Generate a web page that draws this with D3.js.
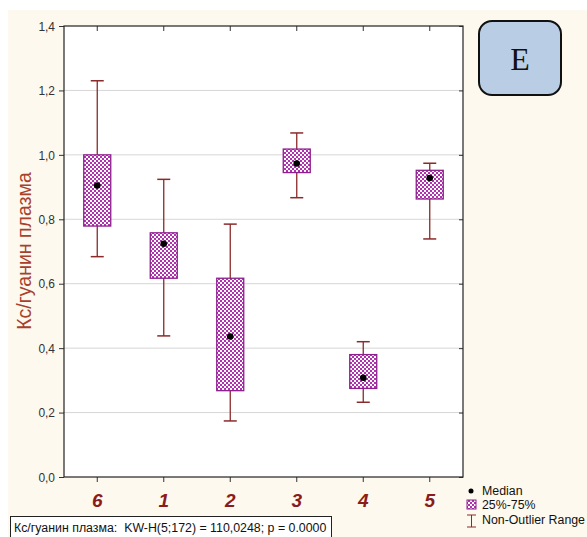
<!DOCTYPE html>
<html><head><meta charset="utf-8">
<script src="https://cdn.jsdelivr.net/npm/d3@7"></script>
<style>body{margin:0;background:#fff}svg{display:block}</style>
</head><body>
<script>
const categories = ["6","1","2","3","4","5"];
const whiskerLow  = [0.684, 0.438, 0.174, 0.867, 0.232, 0.739];
const q1          = [0.779, 0.617, 0.268, 0.945, 0.275, 0.863];
const median      = [0.905, 0.724, 0.436, 0.973, 0.308, 0.928];
const q3          = [1.000, 0.758, 0.617, 1.018, 0.380, 0.952];
const whiskerHigh = [1.230, 0.924, 0.785, 1.068, 0.420, 0.974];
const yTicks = [0, 0.2, 0.4, 0.6, 0.8, 1.0, 1.2, 1.4];
const legendLabels = ["Median", "25%-75%", "Non-Outlier Range"];
const yTitle = "Кс/гуанин плазма";
const footText = "Кс/гуанин плазма:  KW-H(5;172) = 110,0248; p = 0.0000";
const panelLetter = "E";

const W = 587, H = 537;
const svg = d3.select("body").append("svg").attr("width", W).attr("height", H);
const defs = svg.append("defs");
const pat = defs.append("pattern").attr("id","chk").attr("patternUnits","userSpaceOnUse")
  .attr("width",4).attr("height",4);
pat.append("rect").attr("width",4).attr("height",4).attr("fill","#ffffff");
pat.append("rect").attr("width",2).attr("height",2).attr("fill","#b030b0");
pat.append("rect").attr("x",2).attr("y",2).attr("width",2).attr("height",2).attr("fill","#b030b0");

// cream background
svg.append("rect").attr("x",8).attr("y",10).attr("width",W-8).attr("height",H-10).attr("fill","#fdf9ee");

const m = {l:64, t:26, r:463, b:477};
const x = d3.scaleBand().domain(categories).range([m.l, m.r]);
const y = d3.scaleLinear().domain([0,1.4]).range([m.b, m.t]);
const fmt = v => d3.format(".1f")(v).replace(".", ",");

svg.append("rect").attr("x",m.l).attr("y",m.t).attr("width",m.r-m.l).attr("height",m.b-m.t).attr("fill","#fff");

// gridlines
svg.append("g").selectAll("line").data(yTicks.filter(v=>v>0 && v<1.4)).join("line")
  .attr("x1",m.l).attr("x2",m.r).attr("y1",d=>y(d)).attr("y2",d=>y(d))
  .attr("stroke","#d6d6d6").attr("stroke-width",1);

// left axis
const gL = svg.append("g").attr("transform",`translate(${m.l},0)`)
  .call(d3.axisLeft(y).tickValues(yTicks).tickFormat(fmt).tickSize(5).tickPadding(4));
gL.select(".domain").remove();
gL.selectAll("line").attr("stroke","#333");
gL.selectAll("text").attr("font-family","Liberation Sans, Arial, sans-serif").attr("font-size",13).attr("fill","#333")
  .attr("transform","scale(0.92,1)").attr("x",-9/0.92);
// right axis (inner ticks)
const gR = svg.append("g").attr("transform",`translate(${m.r},0)`)
  .call(d3.axisLeft(y).tickValues(yTicks).tickFormat("").tickSize(4));
gR.select(".domain").remove();
gR.selectAll("line").attr("stroke","#333");
// top axis (inner ticks)
const gT = svg.append("g").attr("transform",`translate(0,${m.t})`)
  .call(d3.axisBottom(x).tickFormat("").tickSize(5));
gT.select(".domain").remove();
gT.selectAll("line").attr("stroke","#333");
// bottom axis
const gB = svg.append("g").attr("transform",`translate(0,${m.b})`)
  .call(d3.axisBottom(x).tickSize(5).tickPadding(12));
gB.select(".domain").remove();
gB.selectAll("line").attr("stroke","#333");
gB.selectAll("text").attr("font-family","Liberation Sans, Arial, sans-serif").attr("font-size",19)
  .attr("font-weight","bold").attr("font-style","italic").attr("fill","#8a1c1c");

// frame
svg.append("rect").attr("x",m.l).attr("y",m.t).attr("width",m.r-m.l).attr("height",m.b-m.t)
  .attr("fill","none").attr("stroke","#222").attr("stroke-width",1.2);

// boxes
const data = categories.map((c,i)=>({c, lo:whiskerLow[i], q1:q1[i], med:median[i], q3:q3[i], hi:whiskerHigh[i]}));
const cx = d => x(d.c) + x.bandwidth()/2;
const bw = 27, cw = 13;
const wc = "#8b2a2a";
const g = svg.append("g");
g.selectAll(".wl").data(data).join("line").attr("x1",cx).attr("x2",cx)
  .attr("y1",d=>y(d.hi)).attr("y2",d=>y(d.lo)).attr("stroke",wc).attr("stroke-width",1.3);
g.selectAll(".ch").data(data).join("line").attr("x1",d=>cx(d)-cw/2).attr("x2",d=>cx(d)+cw/2)
  .attr("y1",d=>y(d.hi)).attr("y2",d=>y(d.hi)).attr("stroke",wc).attr("stroke-width",1.5);
g.selectAll(".cl").data(data).join("line").attr("x1",d=>cx(d)-cw/2).attr("x2",d=>cx(d)+cw/2)
  .attr("y1",d=>y(d.lo)).attr("y2",d=>y(d.lo)).attr("stroke",wc).attr("stroke-width",1.5);
g.selectAll(".bx").data(data).join("rect").attr("x",d=>cx(d)-bw/2).attr("width",bw)
  .attr("y",d=>y(d.q3)).attr("height",d=>y(d.q1)-y(d.q3))
  .attr("fill","url(#chk)").attr("stroke","#8e1f8e").attr("stroke-width",1.3);
g.selectAll(".md").data(data).join("circle").attr("cx",cx).attr("cy",d=>y(d.med)).attr("r",3.3).attr("fill","#000");

// y title
svg.append("text").attr("transform","translate(31,251) rotate(-90)").attr("text-anchor","middle")
  .attr("font-family","Liberation Sans, Arial, sans-serif").attr("font-size",19.5).attr("fill","#a8402c").text(yTitle);

// legend
const lg = svg.append("g").attr("font-family","Liberation Sans, Arial, sans-serif").attr("font-size",13.3).attr("fill","#111");
lg.append("circle").attr("cx",471).attr("cy",491).attr("r",2.5).attr("fill","#000");
lg.append("rect").attr("x",467).attr("y",500).attr("width",9).attr("height",9).attr("fill","url(#chk)").attr("stroke","#8e1f8e");
lg.append("line").attr("x1",471.5).attr("x2",471.5).attr("y1",515).attr("y2",527).attr("stroke",wc);
lg.append("line").attr("x1",467).attr("x2",476).attr("y1",515).attr("y2",515).attr("stroke",wc);
lg.append("line").attr("x1",467).attr("x2",476).attr("y1",527).attr("y2",527).attr("stroke",wc);
lg.selectAll("text").data(legendLabels).join("text").attr("y",(d,i)=>495+i*14.5)
  .attr("transform","scale(0.93,1)").attr("x",482/0.93).text(d=>d);

// footer box
svg.append("rect").attr("x",10.5).attr("y",516.5).attr("width",321).attr("height",24).attr("fill","#fff").attr("stroke","#222");
svg.append("text").attr("x",14/0.93).attr("y",532).attr("transform","scale(0.93,1)")
  .attr("xml:space","preserve").style("white-space","pre")
  .attr("font-family","Liberation Sans, Arial, sans-serif").attr("font-size",13.3).attr("fill","#111").text(footText);

// panel letter
svg.append("rect").attr("x",479).attr("y",21).attr("width",82).attr("height",74).attr("rx",13)
  .attr("fill","#b9cde4").attr("stroke","#111").attr("stroke-width",2);
svg.append("text").attr("x",520).attr("y",70).attr("text-anchor","middle")
  .attr("font-family","Liberation Serif, Times New Roman, serif").attr("font-size",32).attr("fill","#111").text(panelLetter);
</script>
</body></html>
